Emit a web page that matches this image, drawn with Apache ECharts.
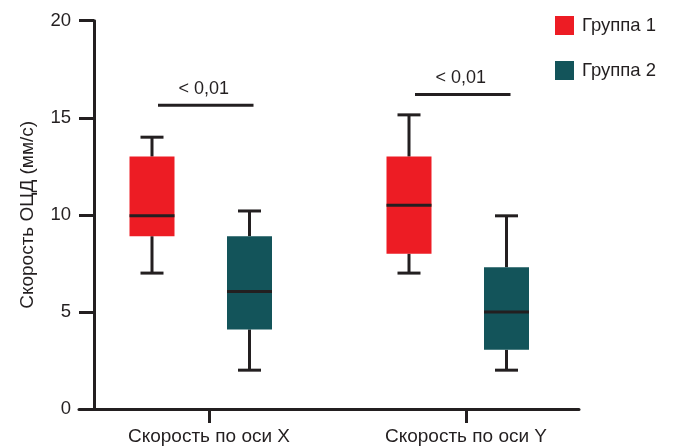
<!DOCTYPE html>
<html>
<head>
<meta charset="utf-8">
<script src="https://cdn.jsdelivr.net/npm/echarts@6/dist/echarts.min.js"></script>
<style>
  html, body { margin: 0; padding: 0; background: #ffffff; }
  #chart { width: 673px; height: 446px; }
</style>
</head>
<body>
<div id="chart"></div>
<script>
// Categories and five-number summaries: [min, Q1, median, Q3, max]
const categories = ['Скорость по оси X', 'Скорость по оси Y'];
const seriesNames = ['Группа 1', 'Группа 2'];
const group1 = [[7, 8.9, 9.95, 13, 14], [7, 8, 10.5, 13, 15.15]];
const group2 = [[2, 4.1, 6.05, 8.9, 10.2], [2, 3.05, 5, 7.3, 9.95]];
// Significance brackets: level on the value axis and the p-value text
const pBarLevels = [15.65, 16.2];
const pLabels = ['< 0,01', '< 0,01'];
const yTicks = [0, 5, 10, 15, 20];

const INK = '#231f20';
const COLORS = ['#ed1c24', '#13545a'];
const FONT = '"Liberation Sans", Arial, Helvetica, sans-serif';
const BOX_W = 45;
const CAP_W = 23;
const LW = 3;
const BOX_OFFSETS = [-57, 40.5];
const BRACKET_SPAN = [-51, 44.5];

function toRows(stats) {
  return stats.map((s, i) => [i].concat(s));
}

function boxRenderer(offset, color) {
  return function (params, api) {
    const cat = api.value(0);
    const cx = api.coord([cat, 0])[0] + offset;
    const y = [1, 2, 3, 4, 5].map(d => api.coord([cat, api.value(d)])[1]);
    const [yMin, yQ1, yMed, yQ3, yMax] = y;
    const hb = BOX_W / 2, hc = CAP_W / 2;
    const stroke = { stroke: INK, lineWidth: LW };
    return {
      type: 'group',
      children: [
        { type: 'line', shape: { x1: cx, y1: yMax, x2: cx, y2: yQ3 }, style: stroke },
        { type: 'line', shape: { x1: cx, y1: yQ1, x2: cx, y2: yMin }, style: stroke },
        { type: 'line', shape: { x1: cx - hc, y1: yMax, x2: cx + hc, y2: yMax }, style: stroke },
        { type: 'line', shape: { x1: cx - hc, y1: yMin, x2: cx + hc, y2: yMin }, style: stroke },
        { type: 'rect', shape: { x: cx - hb, y: yQ3, width: BOX_W, height: yQ1 - yQ3 }, style: { fill: color } },
        { type: 'line', shape: { x1: cx - hb, y1: yMed, x2: cx + hb, y2: yMed }, style: stroke }
      ]
    };
  };
}

function bracketRenderer(params, api) {
  const cat = api.value(0);
  const p = api.coord([cat, api.value(1)]);
  const x1 = p[0] + BRACKET_SPAN[0], x2 = p[0] + BRACKET_SPAN[1];
  return {
    type: 'group',
    children: [
      { type: 'line', shape: { x1: x1, y1: p[1], x2: x2, y2: p[1] }, style: { stroke: INK, lineWidth: LW } },
      {
        type: 'text',
        x: (x1 + x2) / 2 - 2, y: p[1] - 7,
        style: {
          text: pLabels[params.dataIndex], fill: INK, font: '18px ' + FONT,
          textAlign: 'center', textVerticalAlign: 'bottom'
        }
      }
    ]
  };
}

const chart = echarts.init(document.getElementById('chart'), null, { renderer: 'canvas' });

chart.setOption({
  animation: false,
  backgroundColor: '#ffffff',
  textStyle: { fontFamily: FONT, color: INK },
  legend: {
    data: seriesNames,
    orient: 'vertical',
    left: 550, top: 11,
    itemWidth: 19, itemHeight: 19, itemGap: 26,
    icon: 'rect',
    textStyle: { fontSize: 18.5, color: INK, fontFamily: FONT, padding: [0, 0, 0, 3] }
  },
  grid: [
    { left: 80.5, right: 78.5, top: 20.7, bottom: 36.7 },
    { left: 79, right: 94, top: 20.7, bottom: 36.7 }
  ],
  xAxis: [
    {
      gridIndex: 0, type: 'category', data: categories,
      axisLine: { show: false },
      axisTick: { show: true, alignWithLabel: true, length: 14, lineStyle: { color: INK, width: LW } },
      axisLabel: { fontSize: 19, color: INK, fontFamily: FONT, margin: 18 },
      splitLine: { show: false }
    },
    {
      gridIndex: 1, type: 'value', min: 0, max: 1,
      axisLine: { show: true, lineStyle: { color: INK, width: LW } },
      axisTick: { show: false }, axisLabel: { show: false }, splitLine: { show: false }
    }
  ],
  yAxis: [
    {
      gridIndex: 0, type: 'value',
      min: yTicks[0], max: yTicks[yTicks.length - 1], interval: yTicks[1] - yTicks[0],
      offset: -13.5,
      name: 'Скорость ОЦД (мм/с)', nameLocation: 'middle', nameGap: 57,
      nameTextStyle: { fontSize: 19, color: INK, fontFamily: FONT },
      axisLine: { show: true, lineStyle: { color: INK, width: LW } },
      axisTick: { show: true, length: 15, lineStyle: { color: INK, width: LW } },
      axisLabel: { fontSize: 18.5, color: INK, fontFamily: FONT, margin: 23 },
      splitLine: { show: false }
    },
    {
      gridIndex: 1, type: 'value', show: false, min: 0, max: 1
    }
  ],
  series: [
    {
      name: seriesNames[0], type: 'custom', xAxisIndex: 0, yAxisIndex: 0,
      itemStyle: { color: COLORS[0] },
      encode: { x: 0, y: [1, 2, 3, 4, 5] },
      data: toRows(group1),
      renderItem: boxRenderer(BOX_OFFSETS[0], COLORS[0])
    },
    {
      name: seriesNames[1], type: 'custom', xAxisIndex: 0, yAxisIndex: 0,
      itemStyle: { color: COLORS[1] },
      encode: { x: 0, y: [1, 2, 3, 4, 5] },
      data: toRows(group2),
      renderItem: boxRenderer(BOX_OFFSETS[1], COLORS[1])
    },
    {
      name: 'p', type: 'custom', xAxisIndex: 0, yAxisIndex: 0,
      encode: { x: 0, y: 1 },
      data: pBarLevels.map((v, i) => [i, v]),
      renderItem: bracketRenderer
    }
  ]
});
</script>
</body>
</html>
